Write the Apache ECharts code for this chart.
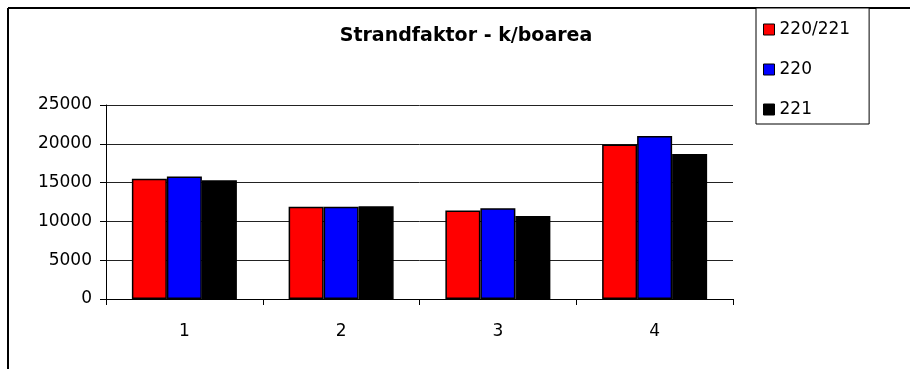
<!DOCTYPE html>
<html>
<head>
<meta charset="utf-8">
<script src="https://cdn.jsdelivr.net/npm/echarts@6/dist/echarts.min.js"></script>
<style>
  html, body { margin: 0; padding: 0; background: #fff; }
  #chart { width: 910px; height: 369px; }
</style>
</head>
<body>
<div id="chart"></div>
<script>
const categories = ['1', '2', '3', '4']
const seriesNames = ['220/221', '220', '221']
const values220221 = [15500, 11900, 11400, 19900]
const values220 = [15800, 11900, 11700, 21000]
const values221 = [15300, 11950, 10700, 18700]
const yTicks = { min: 0, max: 25000, interval: 5000 }

const font = 'DejaVu Sans'
const colors = ['#ff0000', '#0000ff', '#000000']
const allValues = [values220221, values220, values221]

const chart = echarts.init(document.getElementById('chart'))

const option = {
  animation: false,
  backgroundColor: '#fff',
  title: {
    text: 'Strandfaktor - k/boarea',
    left: 466,
    top: 27,
    padding: 0,
    textAlign: 'center',
    textStyle: { fontFamily: font, fontSize: 19, fontWeight: 'bold', color: '#000' },
  },
  legend: {
    orient: 'vertical',
    left: 756,
    top: 8,
    padding: [13, 19, 6, 7],
    itemGap: 23,
    itemWidth: 11,
    itemHeight: 11,
    backgroundColor: '#fff',
    borderColor: '#000',
    borderWidth: 1,
    icon: 'rect',
    itemStyle: { borderColor: '#000', borderWidth: 1 },
    textStyle: { fontFamily: font, fontSize: 17, color: '#000', lineHeight: 17 },
    data: seriesNames,
  },
  grid: { left: 106, right: 177, top: 105, bottom: 70 },
  xAxis: {
    type: 'category',
    data: categories,
    axisLine: { lineStyle: { color: '#000', width: 1 } },
    axisTick: { show: true, length: 6, lineStyle: { color: '#000' } },
    axisLabel: { fontFamily: font, fontSize: 17, color: '#000', margin: 24 },
  },
  yAxis: {
    type: 'value',
    min: yTicks.min,
    max: yTicks.max,
    interval: yTicks.interval,
    axisLine: { show: true, lineStyle: { color: '#000', width: 1 } },
    axisTick: { show: true, length: 6, lineStyle: { color: '#000' } },
    axisLabel: {
      fontFamily: font,
      fontSize: 17,
      color: '#000',
      margin: 14,
      formatter: (v) => String(v),
    },
    splitLine: { lineStyle: { color: '#222', width: 1 } },
  },
  series: seriesNames.map((name, i) => ({
    name: name,
    type: 'bar',
    data: allValues[i],
    barWidth: 35,
    barGap: '0%',
    itemStyle: { color: colors[i], borderColor: '#000', borderWidth: 1.5 },
  })),
  graphic: [
    { type: 'line', shape: { x1: 8, y1: 8, x2: 8, y2: 369 }, style: { stroke: '#000', lineWidth: 2 } },
    { type: 'line', shape: { x1: 8, y1: 8, x2: 910, y2: 8 }, style: { stroke: '#000', lineWidth: 2 } },
  ],
}

chart.setOption(option)
</script>
</body>
</html>
